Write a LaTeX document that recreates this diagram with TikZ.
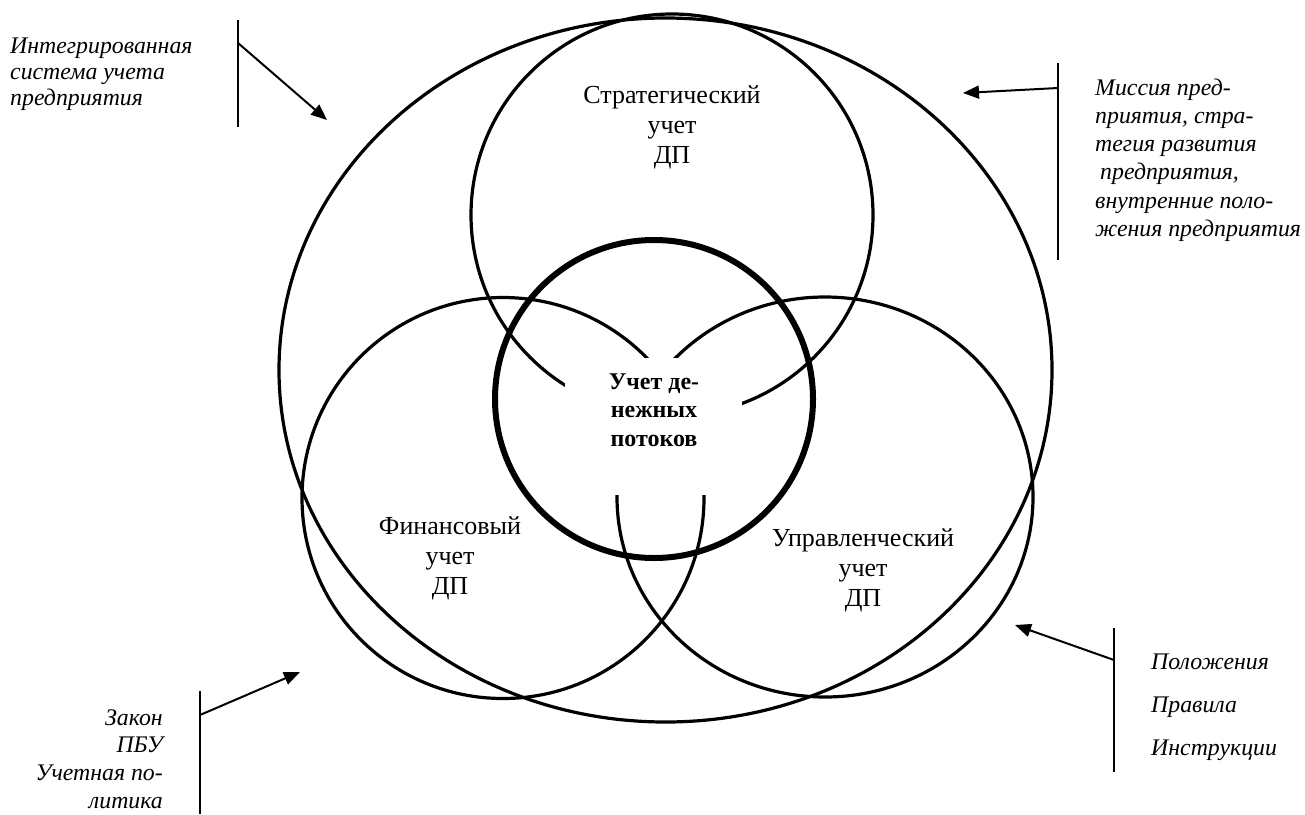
\documentclass[tikz,border=0pt]{standalone}
\usepackage{fontspec}
\setmainfont{Liberation Serif}
\usetikzlibrary{arrows.meta}
\begin{document}
\begin{tikzpicture}[x=1pt,y=-1pt,
  ring/.style={line width=3.2pt},
  corering/.style={line width=6pt},
  pointer/.style={line width=2pt,-{Triangle[length=16pt,width=13pt]}},
  bar/.style={line width=2pt},
  circtext/.style={font=\fontsize{26}{30}\selectfont, align=center, inner sep=0pt},
  coretext/.style={font=\bfseries\fontsize{24}{28.5}\selectfont, align=center, inner sep=0pt},
  note/.style={font=\itshape\fontsize{23.8}{26}\selectfont, inner sep=0pt}
]
\useasboundingbox (0,0) rectangle (1305,814);
\fill[white] (0,0) rectangle (1305,814);

% outer oval: integrated accounting system
\draw[ring] (665.5,370) ellipse [x radius=386.5, y radius=352];

% three accounting circles
\draw[ring] (672,215) circle [radius=201];
\draw[ring] (503,498) ellipse [x radius=201, y radius=200.5];
\draw[ring] (825,497) ellipse [x radius=208, y radius=200];

% white text frame hiding the crossings in the middle
\node[fill=white, minimum width=177pt, minimum height=137pt, inner sep=0pt] (coremask) at (653.5,426.5) {};

% cash-flow accounting core
\draw[corering] (654,399) circle [radius=159];

% labels inside the circles
\node[circtext] (strat) at (672,127) {Стратегический\\учет\\ДП};
\node[circtext] (fin) at (450,558) {Финансовый\\учет\\ДП};
\node[circtext] (mgmt) at (863,570) {Управленческий\\учет\\ДП};
\node[coretext] (core) at (654,410) {Учет де-\\нежных\\потоков};

% side notes
\node[note, anchor=west, align=left] (ntl) at (10,74)
  {Интегрированная\\система учета\\предприятия};
\node[note, anchor=west, align=left, font=\itshape\fontsize{23.8}{28.2}\selectfont] (ntr) at (1095,160)
  {Миссия пред-\\приятия, стра-\\тегия развития\\\hspace*{5pt}предприятия,\\внутренние поло-\\жения предприятия};
\node[note, anchor=east, align=right, font=\itshape\fontsize{23.8}{27.7}\selectfont] (nbl) at (163,759)
  {Закон\\ПБУ\\Учетная по-\\литика};
\node[note, anchor=west, align=left, font=\itshape\fontsize{23.8}{43}\selectfont] (nbr) at (1151,707)
  {Положения\\Правила\\Инструкции};

% brackets beside the notes
\coordinate (btl1) at (238,20);   \coordinate (btl2) at (238,127);
\coordinate (btr1) at (1058,63);  \coordinate (btr2) at (1058,260);
\coordinate (bbl1) at (200,691);  \coordinate (bbl2) at (200,814);
\coordinate (bbr1) at (1114,628); \coordinate (bbr2) at (1114,772);
\draw[bar] (btl1) -- (btl2);
\draw[bar] (btr1) -- (btr2);
\draw[bar] (bbl1) -- (bbl2);
\draw[bar] (bbr1) -- (bbr2);

% arrows from the brackets towards the diagram
\coordinate (stl) at (238,43);   \coordinate (ttl) at (327,120);
\coordinate (str) at (1058,88);  \coordinate (ttr) at (963,93);
\coordinate (sbl) at (200,715);  \coordinate (tbl) at (300,672);
\coordinate (sbr) at (1114,660); \coordinate (tbr) at (1015,625);
\draw[pointer] (stl) -- (ttl);
\draw[pointer] (str) -- (ttr);
\draw[pointer] (sbl) -- (tbl);
\draw[pointer] (sbr) -- (tbr);
\end{tikzpicture}
\end{document}
